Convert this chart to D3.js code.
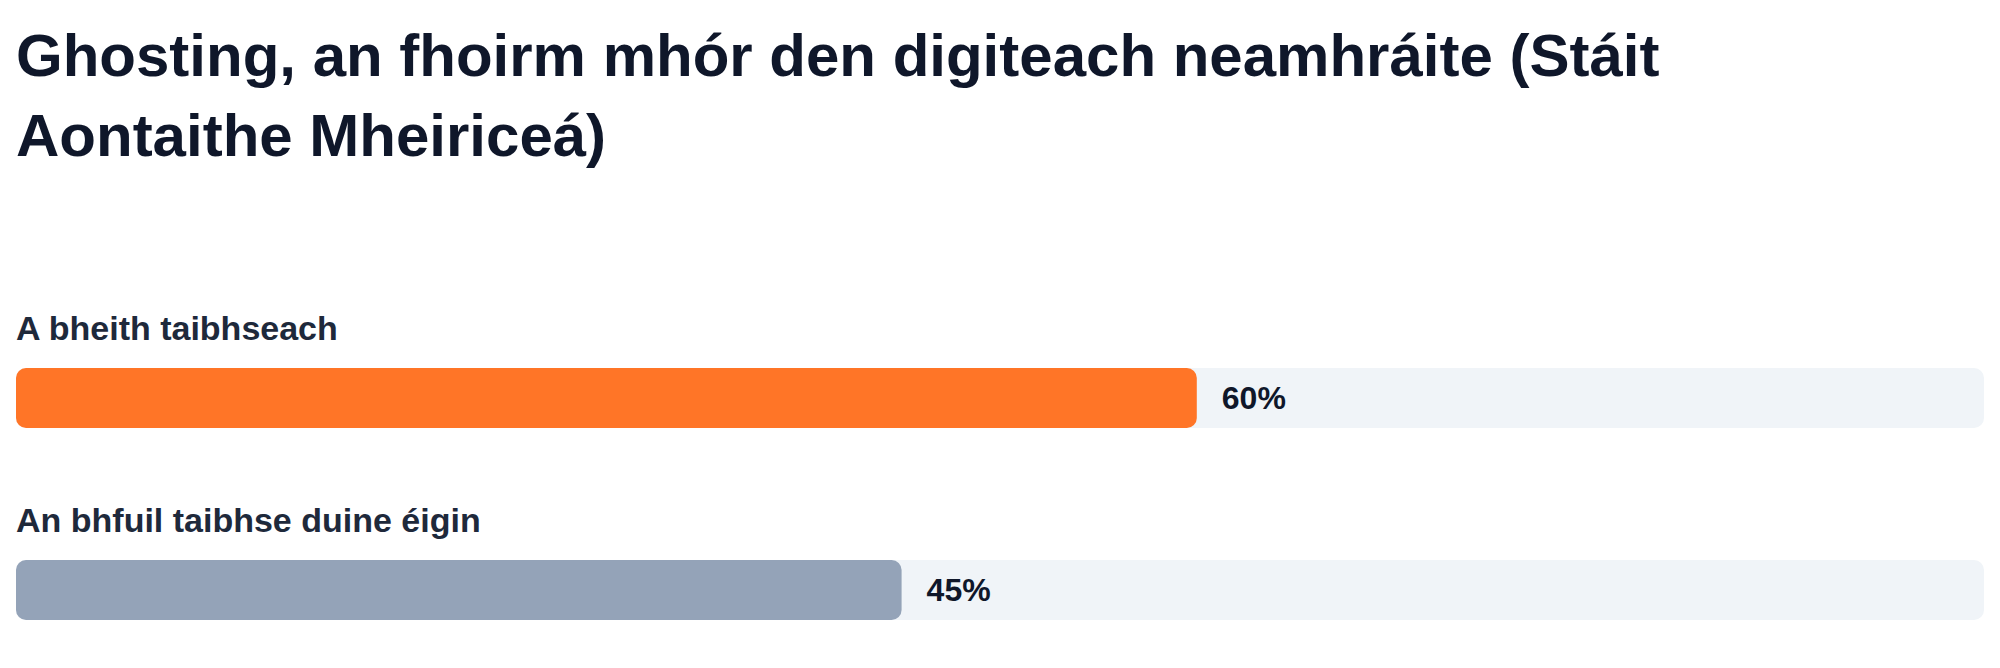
<!DOCTYPE html>
<html>
<head>
<meta charset="utf-8">
<script src="https://cdn.jsdelivr.net/npm/d3@7"></script>
<style>
  html, body { margin: 0; padding: 0; background: #fff; }
  svg { display: block; font-family: "Liberation Sans", Arial, Helvetica, sans-serif; }
</style>
</head>
<body>
<div id="chart"></div>
<script>
const title = "Ghosting, an fhoirm mhór den digiteach neamhráite (Stáit Aontaithe Mheiriceá)";
const categories = ["A bheith taibhseach", "An bhfuil taibhse duine éigin"];
const values = [60, 45];
const barColors = ["#ff7527", "#94a3b8"];

const width = 2000, height = 668;
const margin = { left: 16, right: 16 };
const barH = 60;
const titleMaxWidth = 1800;

const svg = d3.select("#chart").append("svg")
    .attr("width", width)
    .attr("height", height);

// title, wrapped
const titleText = svg.append("text")
    .attr("x", margin.left)
    .attr("y", 76)
    .attr("fill", "#0f172a")
    .style("font-size", "60px")
    .style("font-weight", 700);

const words = title.split(" ");
let line = [];
let tspan = titleText.append("tspan").attr("x", margin.left).attr("dy", 0);
words.forEach(w => {
  line.push(w);
  tspan.text(line.join(" "));
  if (tspan.node().getComputedTextLength() > titleMaxWidth && line.length > 1) {
    line.pop();
    tspan.text(line.join(" "));
    line = [w];
    tspan = titleText.append("tspan").attr("x", margin.left).attr("dy", 80).text(w);
  }
});

const x = d3.scaleLinear()
    .domain([0, 100])
    .range([margin.left, width - margin.right]);

const y = d3.scalePoint()
    .domain(categories)
    .range([368, 560]);

const row = svg.append("g")
  .selectAll("g")
  .data(categories)
  .join("g")
    .attr("transform", d => `translate(0,${y(d)})`);

row.append("text")
    .attr("x", margin.left)
    .attr("y", -28)
    .attr("fill", "#1e293b")
    .style("font-size", "34px")
    .style("font-weight", 700)
    .text(d => d);

// background track
row.append("rect")
    .attr("x", x(0))
    .attr("width", x(100) - x(0))
    .attr("height", barH)
    .attr("rx", 10)
    .attr("fill", "#f0f4f8");

row.append("rect")
    .attr("x", x(0))
    .attr("width", (d, i) => x(values[i]) - x(0))
    .attr("height", barH)
    .attr("rx", 10)
    .attr("fill", (d, i) => barColors[i]);

row.append("text")
    .attr("x", (d, i) => x(values[i]) + 25)
    .attr("y", barH / 2)
    .attr("dy", "0.35em")
    .attr("fill", "#0f172a")
    .style("font-size", "32px")
    .style("font-weight", 700)
    .text((d, i) => values[i] + "%");
</script>
</body>
</html>
